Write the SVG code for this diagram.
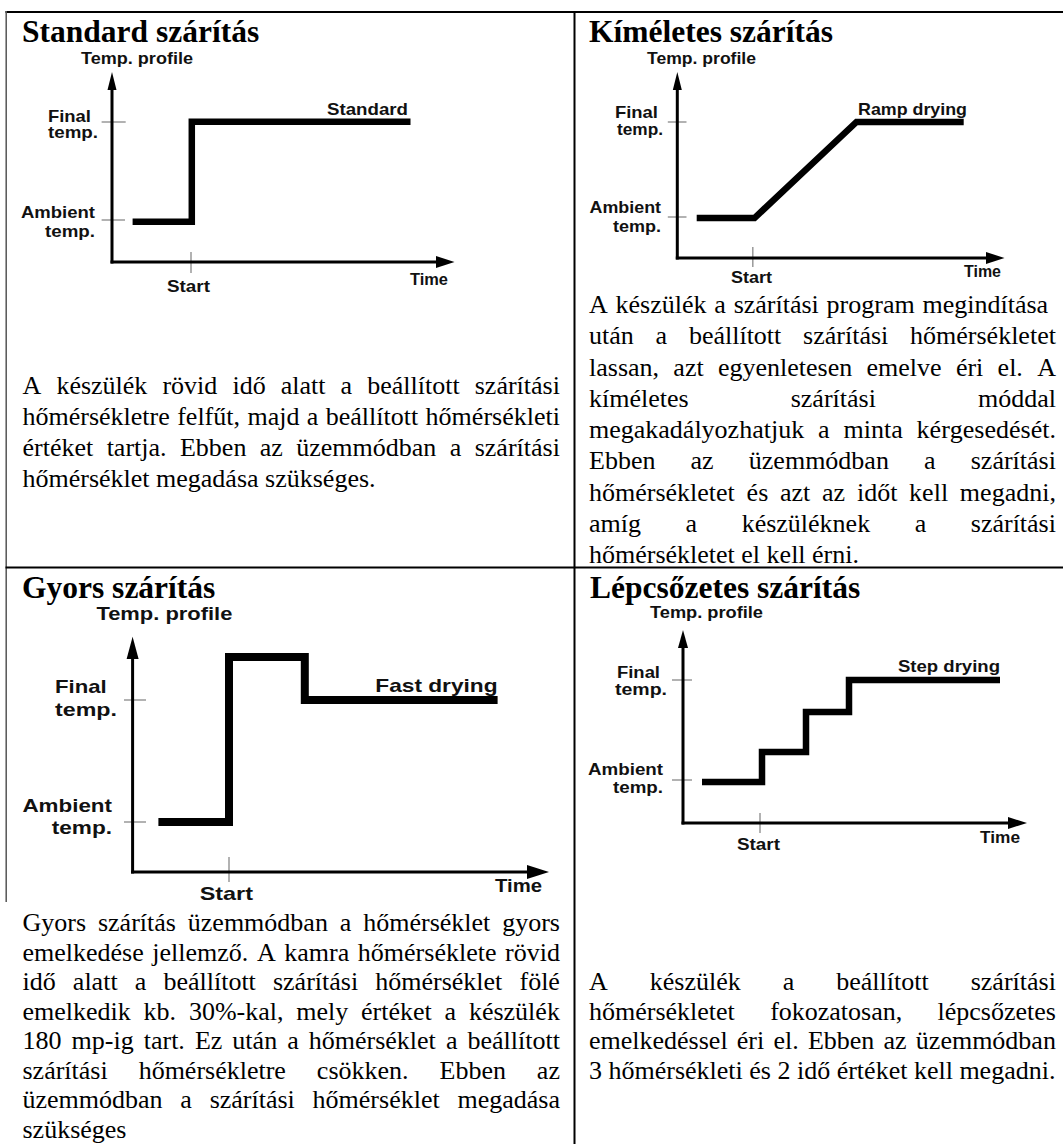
<svg xmlns="http://www.w3.org/2000/svg" width="1063" height="1144" viewBox="0 0 1063 1144">
<style>
.t{font-family:"Liberation Serif","Times New Roman",serif;font-size:31.5px;font-weight:bold;fill:#000}
.b{font-family:"Liberation Serif","Times New Roman",serif;font-size:26px;fill:#000;font-kerning:none;white-space:pre}
.c{font-family:"Liberation Sans",Arial,sans-serif;font-weight:bold;fill:#111}
.ax{stroke:#000;stroke-width:3;fill:none}
.tk{stroke:#999;stroke-width:1.5;fill:none}
.pr{stroke:#000;fill:none;stroke-linejoin:miter;stroke-miterlimit:10}
.bd{stroke:#000;stroke-width:2;fill:none}
</style>
<rect width="1063" height="1144" fill="#fff"/>
<g id="table">
<line class="bd" x1="5.5" y1="12" x2="1063" y2="12"/>
<line x1="6.2" y1="11" x2="6.2" y2="902" stroke="#555" stroke-width="1.5"/>
<line class="bd" x1="574.5" y1="11" x2="574.5" y2="1144"/>
<line class="bd" x1="5.5" y1="567.5" x2="1063" y2="567.5"/>
</g>
<g id="standard">
<text class="t" x="22" y="42">Standard szárítás</text>
<g id="standard-chart">
<line class="tk" x1="101.6" y1="122" x2="125.7" y2="122"/>
<line class="tk" x1="101.6" y1="220" x2="125" y2="220"/>
<line class="tk" x1="191" y1="252" x2="191" y2="273"/>
<line class="ax" x1="112" y1="88" x2="112" y2="263.5"/>
<polygon points="112,72 107.5,90 116.5,90"/>
<line class="ax" x1="110.5" y1="262" x2="438" y2="262"/>
<polygon points="454.5,262 436,256 436,268"/>
<polyline class="pr" stroke-width="6.5" points="132.6,221.7 191.8,221.7 191.8,121.7 410.5,121.7"/>
<g class="c" font-size="16.5">
<text x="81" y="63.5" textLength="112" lengthAdjust="spacingAndGlyphs">Temp. profile</text>
<text x="48" y="122" textLength="43" lengthAdjust="spacingAndGlyphs">Final</text>
<text x="48" y="138" textLength="50" lengthAdjust="spacingAndGlyphs">temp.</text>
<text x="21" y="218" textLength="74" lengthAdjust="spacingAndGlyphs">Ambient</text>
<text x="45" y="237" textLength="50" lengthAdjust="spacingAndGlyphs">temp.</text>
<text x="327" y="115" textLength="81" lengthAdjust="spacingAndGlyphs">Standard</text>
<text x="167" y="292" textLength="43" lengthAdjust="spacingAndGlyphs">Start</text>
<text x="410" y="285" textLength="38" lengthAdjust="spacingAndGlyphs">Time</text>
</g>
</g>
<g class="b">
<text x="22.5" y="394" style="word-spacing:8.6px">A készülék rövid idő alatt a beállított szárítási</text>
<text x="22.5" y="425" style="word-spacing:0.92px">hőmérsékletre felfűt, majd a beállított hőmérsékleti</text>
<text x="22.5" y="456" style="word-spacing:6.91px">értéket tartja. Ebben az üzemmódban a szárítási</text>
<text x="22.5" y="487">hőmérséklet megadása szükséges.</text>
</g>
</g>
<g id="kimeletes">
<text class="t" x="589" y="42">Kíméletes szárítás</text>
<g id="kimeletes-chart">
<line class="tk" x1="667.8" y1="122" x2="686.5" y2="122"/>
<line class="tk" x1="667.8" y1="217" x2="686.5" y2="217"/>
<line class="tk" x1="752.8" y1="247" x2="752.8" y2="267"/>
<line class="ax" x1="677.3" y1="88" x2="677.3" y2="259.5"/>
<polygon points="677.3,72 672.8,90 681.8,90"/>
<line class="ax" x1="675.8" y1="258" x2="988" y2="258"/>
<polygon points="1004.5,258 986,252 986,264"/>
<polyline class="pr" stroke-width="6.5" points="696.7,218 754.5,218 856.5,122 963.7,122"/>
<g class="c" font-size="16.5">
<text x="647" y="63.5" textLength="109" lengthAdjust="spacingAndGlyphs">Temp. profile</text>
<text x="615" y="118" textLength="43" lengthAdjust="spacingAndGlyphs">Final</text>
<text x="617" y="135" textLength="46" lengthAdjust="spacingAndGlyphs">temp.</text>
<text x="589.5" y="213" textLength="71.5" lengthAdjust="spacingAndGlyphs">Ambient</text>
<text x="613" y="232" textLength="48" lengthAdjust="spacingAndGlyphs">temp.</text>
<text x="858" y="115" textLength="109" lengthAdjust="spacingAndGlyphs">Ramp drying</text>
<text x="731" y="283" textLength="41" lengthAdjust="spacingAndGlyphs">Start</text>
<text x="964" y="277" textLength="37" lengthAdjust="spacingAndGlyphs">Time</text>
</g>
</g>
<g class="b">
<text x="589" y="313" style="word-spacing:1.29px">A készülék a szárítási program megindítása</text>
<text x="589" y="344.25" style="word-spacing:15.29px">után a beállított szárítási hőmérsékletet</text>
<text x="589" y="375.5" style="word-spacing:7.8px">lassan, azt egyenletesen emelve éri el. A</text>
<text x="589" y="406.75" style="word-spacing:95.57px">kíméletes szárítási móddal</text>
<text x="589" y="438" style="word-spacing:7.41px">megakadályozhatjuk a minta kérgesedését.</text>
<text x="589" y="469.25" style="word-spacing:28.66px">Ebben az üzemmódban a szárítási</text>
<text x="589" y="500.5" style="word-spacing:5.26px">hőmérsékletet és azt az időt kell megadni,</text>
<text x="589" y="531.75" style="word-spacing:38.05px">amíg a készüléknek a szárítási</text>
<text x="589" y="563">hőmérsékletet el kell érni.</text>
</g>
</g>
<g id="gyors">
<text class="t" x="22" y="598">Gyors szárítás</text>
<g id="gyors-chart">
<line class="tk" x1="124" y1="700" x2="146" y2="700"/>
<line class="tk" x1="124" y1="822" x2="146" y2="822"/>
<line class="tk" x1="229" y1="857" x2="229" y2="882"/>
<line class="ax" x1="132.6" y1="655" x2="132.6" y2="873.5"/>
<polygon points="132.6,636.7 126.6,659 138.6,659"/>
<line class="ax" x1="131" y1="872" x2="530" y2="872"/>
<polygon points="549,872 527,865 527,879"/>
<polyline class="pr" stroke-width="8" points="158.4,822 229,822 229,657 304.8,657 304.8,700 497.6,700"/>
<g class="c" font-size="18.5">
<text x="96.4" y="620" textLength="136" lengthAdjust="spacingAndGlyphs">Temp. profile</text>
<text x="55" y="693" textLength="51.7" lengthAdjust="spacingAndGlyphs">Final</text>
<text x="55" y="716" textLength="62" lengthAdjust="spacingAndGlyphs">temp.</text>
<text x="22.4" y="812" textLength="89.6" lengthAdjust="spacingAndGlyphs">Ambient</text>
<text x="51.7" y="834" textLength="60.3" lengthAdjust="spacingAndGlyphs">temp.</text>
<text x="375.3" y="692" textLength="122.3" lengthAdjust="spacingAndGlyphs">Fast drying</text>
<text x="199.7" y="900" textLength="53.3" lengthAdjust="spacingAndGlyphs">Start</text>
<text x="495" y="892" textLength="47" lengthAdjust="spacingAndGlyphs">Time</text>
</g>
</g>
<g class="b">
<text x="22.5" y="931" style="word-spacing:5.4px">Gyors szárítás üzemmódban a hőmérséklet gyors</text>
<text x="22.5" y="960.5" style="word-spacing:2.08px">emelkedése jellemző. A kamra hőmérséklete rövid</text>
<text x="22.5" y="990" style="word-spacing:10.63px">idő alatt a beállított szárítási hőmérséklet fölé</text>
<text x="22.5" y="1019.5" style="word-spacing:6.3px">emelkedik kb. 30%-kal, mely értéket a készülék</text>
<text x="22.5" y="1049" style="word-spacing:3.55px">180 mp-ig tart. Ez után a hőmérséklet a beállított</text>
<text x="22.5" y="1078.5" style="word-spacing:24.45px">szárítási hőmérsékletre csökken. Ebben az</text>
<text x="22.5" y="1108" style="word-spacing:11.27px">üzemmódban a szárítási hőmérséklet megadása</text>
<text x="22.5" y="1137.5">szükséges</text>
</g>
</g>
<g id="lepcsozetes">
<text class="t" x="590" y="598">Lépcsőzetes szárítás</text>
<g id="lepcsozetes-chart">
<line class="tk" x1="672" y1="680" x2="692" y2="680"/>
<line class="tk" x1="672" y1="780" x2="692" y2="780"/>
<line class="tk" x1="760" y1="813" x2="760" y2="833"/>
<line class="ax" x1="683" y1="646" x2="683" y2="824.5"/>
<polygon points="683,630 678,648 688,648"/>
<line class="ax" x1="681.5" y1="823" x2="1010" y2="823"/>
<polygon points="1027,823 1008,817 1008,829"/>
<polyline class="pr" stroke-width="6.5" points="702,782 762,782 762,752 806,752 806,712 849,712 849,680 1000,680"/>
<g class="c" font-size="16">
<text x="650" y="618" textLength="113" lengthAdjust="spacingAndGlyphs">Temp. profile</text>
<text x="617" y="678" textLength="43" lengthAdjust="spacingAndGlyphs">Final</text>
<text x="615" y="695" textLength="52" lengthAdjust="spacingAndGlyphs">temp.</text>
<text x="588" y="775" textLength="75" lengthAdjust="spacingAndGlyphs">Ambient</text>
<text x="613" y="793" textLength="50" lengthAdjust="spacingAndGlyphs">temp.</text>
<text x="898" y="672" textLength="102" lengthAdjust="spacingAndGlyphs">Step drying</text>
<text x="737" y="850" textLength="43" lengthAdjust="spacingAndGlyphs">Start</text>
<text x="980" y="843" textLength="40" lengthAdjust="spacingAndGlyphs">Time</text>
</g>
</g>
<g class="b">
<text x="589" y="990" style="word-spacing:35.5px">A készülék a beállított szárítási</text>
<text x="589" y="1019.5" style="word-spacing:28.8px">hőmérsékletet fokozatosan, lépcsőzetes</text>
<text x="589" y="1049" style="word-spacing:2.71px">emelkedéssel éri el. Ebben az üzemmódban</text>
<text x="589" y="1078.5">3 hőmérsékleti és 2 idő értéket kell megadni.</text>
</g>
</g>
</svg>
